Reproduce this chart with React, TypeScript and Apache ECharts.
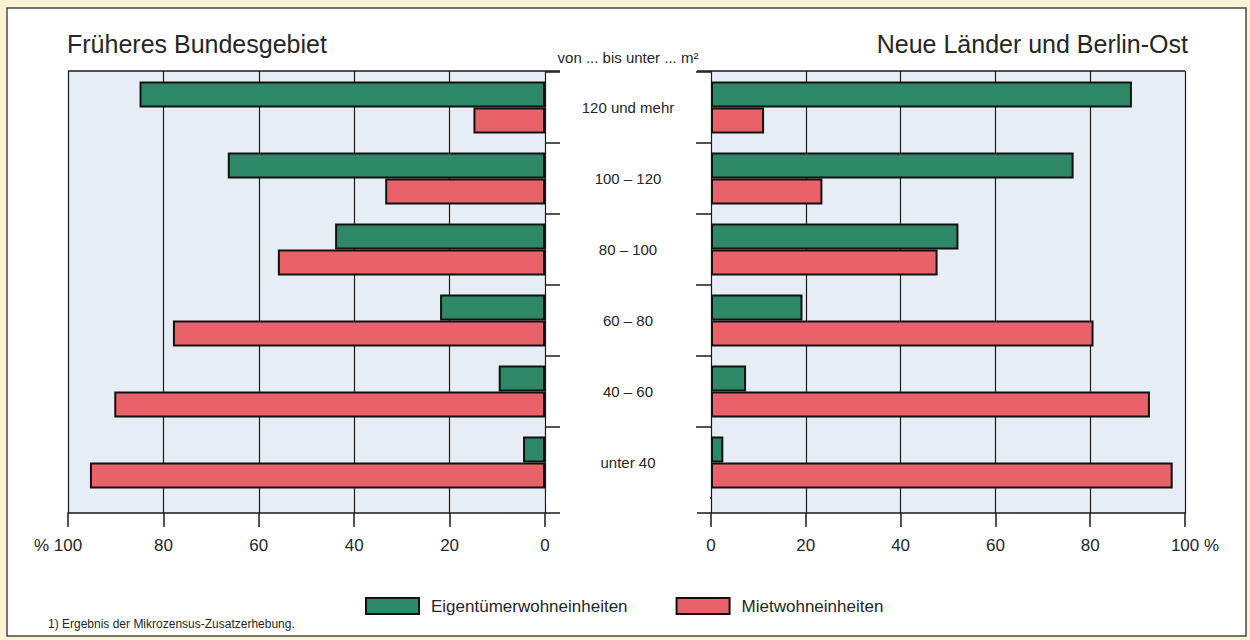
import React, { useEffect, useRef } from "react";
import * as echarts from "echarts";

const categories = ["120 und mehr", "100 – 120", "80 – 100", "60 – 80", "40 – 60", "unter 40"];
const westOwner = [85, 66.5, 44, 22, 9.7, 4.6];
const westRent = [15, 33.5, 56, 78, 90.3, 95.4];
const eastOwner = [88.8, 76.5, 52.2, 19.3, 7.4, 2.6];
const eastRent = [11.2, 23.5, 47.8, 80.7, 92.6, 97.4];
const seriesNames = ["Eigentümerwohneinheiten", "Mietwohneinheiten"];
const leftTitle = "Früheres Bundesgebiet";
const rightTitle = "Neue Länder und Berlin-Ost";
const axisCaption = "von ... bis unter ... m²";
const footnote = "1) Ergebnis der Mikrozensus-Zusatzerhebung.";

const FONT = "'Liberation Sans', Arial, sans-serif";
const GREEN = "#2e8867";
const RED = "#e9626a";
const PLOT_BG = "#e7edf5";
const INK = "#1a1a1a";
const TEXT = "#262626";
const FRAME = "#fbf3d4";

function bgXAxis(gridIndex: number, inverse: boolean, left: boolean) {
  return {
    gridIndex,
    type: "value",
    min: 0,
    max: 100,
    interval: 20,
    inverse,
    position: "bottom",
    axisLine: { show: true, lineStyle: { color: INK, width: 1.5 } },
    axisTick: { show: true, inside: false, length: 14, lineStyle: { color: INK, width: 1.5 } },
    axisLabel: {
      margin: 24,
      fontSize: 17,
      fontFamily: FONT,
      color: TEXT,
      formatter: (v: number) =>
        v === 100 ? (left ? "{p|% 100}" : "{q|100 %}") : String(v),
      rich: {
        p: { fontSize: 17, fontFamily: FONT, color: TEXT, padding: [0, 20, 0, 0] },
        q: { fontSize: 17, fontFamily: FONT, color: TEXT, padding: [0, 0, 0, 20] },
      },
    },
    splitLine: { show: true, lineStyle: { color: INK, width: 1.2 } },
  };
}

function barYAxis(gridIndex: number, left: boolean) {
  return {
    gridIndex,
    type: "category",
    data: categories,
    inverse: true,
    position: left ? "right" : "left",
    axisLine: { show: false },
    axisTick: { show: true, inside: false, length: 15, lineStyle: { color: INK, width: 1.5 } },
    axisLabel: {
      show: left,
      align: "center",
      margin: 83,
      fontSize: 15,
      fontFamily: FONT,
      color: TEXT,
    },
    splitLine: { show: false },
  };
}

function barSeries(name: string, data: number[], axisIndex: number, color: string) {
  return {
    type: "bar",
    name,
    data,
    xAxisIndex: axisIndex,
    yAxisIndex: axisIndex,
    barWidth: 26,
    barGap: "0%",
    itemStyle: { color, borderColor: "#111", borderWidth: 2 },
    emphasis: { disabled: true },
  };
}

export default function App() {
  const ref = useRef<HTMLDivElement>(null);
  useEffect(() => {
    if (!ref.current) return;
    const chart = echarts.init(ref.current, undefined, { renderer: "svg" });
    const line = (x1: number, y1: number, x2: number, y2: number) => ({
      type: "line",
      shape: { x1, y1, x2, y2 },
      style: { stroke: INK, lineWidth: 1.5 },
      z: 10,
    });
    const cover = (x: number, y: number, width: number, height: number) => ({
      type: "rect",
      shape: { x, y, width, height },
      style: { fill: "#ffffff" },
      z: 20,
    });
    chart.setOption({
      animation: false,
      backgroundColor: "#ffffff",
      grid: [
        { left: 68, top: 71, width: 477, height: 442, show: true, backgroundColor: PLOT_BG, borderWidth: 0 },
        { left: 68, top: 72, width: 477, height: 426 },
        { left: 711, top: 71, width: 474, height: 442, show: true, backgroundColor: PLOT_BG, borderWidth: 0 },
        { left: 711, top: 72, width: 474, height: 426 },
      ],
      xAxis: [
        bgXAxis(0, true, true),
        { gridIndex: 1, type: "value", min: 0, max: 100, inverse: true, show: false },
        bgXAxis(2, false, false),
        { gridIndex: 3, type: "value", min: 0, max: 100, show: false },
      ],
      yAxis: [
        { gridIndex: 0, type: "value", min: 0, max: 1, show: false },
        barYAxis(1, true),
        { gridIndex: 2, type: "value", min: 0, max: 1, show: false },
        barYAxis(3, false),
      ],
      legend: {
        data: seriesNames,
        left: 360,
        top: 592,
        icon: "rect",
        itemWidth: 53,
        itemHeight: 16,
        itemGap: 48,
        itemStyle: { borderColor: "#111", borderWidth: 2 },
        textStyle: { fontSize: 17, fontFamily: FONT, color: TEXT, padding: [0, 0, 0, 7] },
        selectedMode: false,
      },
      series: [
        barSeries(seriesNames[0], westOwner, 1, GREEN),
        barSeries(seriesNames[1], westRent, 1, RED),
        barSeries(seriesNames[0], eastOwner, 3, GREEN),
        barSeries(seriesNames[1], eastRent, 3, RED),
      ],
      graphic: [
        { type: "rect", shape: { x: 0, y: 0, width: 1250, height: 8 }, style: { fill: FRAME } },
        { type: "rect", shape: { x: 0, y: 0, width: 7, height: 640 }, style: { fill: FRAME } },
        { type: "rect", shape: { x: 1246, y: 0, width: 4, height: 640 }, style: { fill: FRAME } },
        { type: "rect", shape: { x: 0, y: 636, width: 1250, height: 4 }, style: { fill: FRAME } },
        { type: "rect", shape: { x: 7, y: 8, width: 1239, height: 628 }, style: { fill: "none", stroke: "#4a4a4a", lineWidth: 1.5 } },
        cover(546, 492, 16, 12),
        cover(694, 492, 16, 12),
        line(68, 71, 560, 71),
        line(545, 513, 560, 513),
        line(697, 71, 1185, 71),
        line(697, 513, 711, 513),
        {
          type: "text",
          x: 67,
          y: 44,
          style: { text: leftTitle, fontSize: 25, fontFamily: FONT, fill: TEXT, textVerticalAlign: "middle", verticalAlign: "middle" },
        },
        {
          type: "text",
          x: 1188,
          y: 44,
          style: { text: rightTitle, fontSize: 25, fontFamily: FONT, fill: TEXT, align: "right", textAlign: "right", verticalAlign: "middle", textVerticalAlign: "middle" },
        },
        {
          type: "text",
          x: 628,
          y: 57,
          style: { text: axisCaption, fontSize: 15, fontFamily: FONT, fill: TEXT, align: "center", textAlign: "center", verticalAlign: "middle", textVerticalAlign: "middle" },
        },
        {
          type: "text",
          x: 48,
          y: 624,
          style: { text: footnote, fontSize: 12, fontFamily: FONT, fill: TEXT, verticalAlign: "middle", textVerticalAlign: "middle" },
        },
      ],
    });
    return () => chart.dispose();
  }, []);
  return (
    <div
      ref={ref}
      style={{ position: "fixed", left: 0, top: 0, width: 1250, height: 640 }}
    />
  );
}
